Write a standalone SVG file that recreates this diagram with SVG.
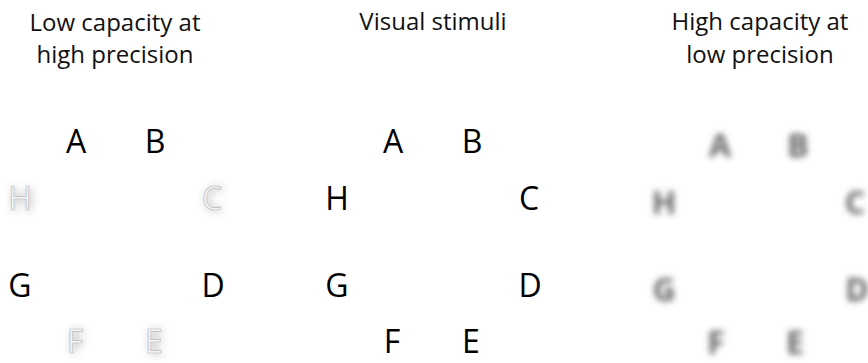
<svg xmlns="http://www.w3.org/2000/svg" width="868" height="363" viewBox="0 0 868 363">
<defs>
<style>
.title{font-family:"Open Sans","Noto Sans",sans-serif;font-size:24px;fill:#111;text-anchor:middle}
.let{font-family:"Open Sans","Noto Sans",sans-serif;font-size:32px;fill:#000;text-anchor:middle}
.faintShadow{fill:#666;opacity:0.6;filter:url(#softBlur)}
.faint{fill:#f4f4f4;stroke:#bdbdbd;stroke-width:0.7}
.blurry{fill:#666;font-weight:700;filter:url(#heavyBlur)}
</style>
<filter id="softBlur" x="-80%" y="-80%" width="260%" height="260%">
<feOffset dx="2" dy="1"/>
<feGaussianBlur stdDeviation="4"/>
</filter>
<filter id="heavyBlur" x="-80%" y="-80%" width="260%" height="260%">
<feGaussianBlur stdDeviation="3.2"/>
</filter>
</defs>
<rect width="868" height="363" fill="#fff"/>
<g id="title-left">
<text class="title" x="115" y="31">Low capacity at</text>
<text class="title" x="115" y="63">high precision</text>
</g>
<g id="title-middle">
<text class="title" x="433" y="30">Visual stimuli</text>
</g>
<g id="title-right">
<text class="title" x="760" y="30">High capacity at</text>
<text class="title" x="760" y="63">low precision</text>
</g>
<g id="panel-left">
<g id="left-A"><text class="let" x="76" y="153">A</text></g>
<g id="left-B"><text class="let" x="155" y="153">B</text></g>
<g id="left-H"><text class="let faintShadow" x="20" y="210">H</text><text class="let faint" x="20" y="210">H</text></g>
<g id="left-C"><text class="let faintShadow" x="212" y="210">C</text><text class="let faint" x="212" y="210">C</text></g>
<g id="left-G"><text class="let" x="20" y="297">G</text></g>
<g id="left-D"><text class="let" x="213" y="297">D</text></g>
<g id="left-F"><text class="let faintShadow" x="75" y="353">F</text><text class="let faint" x="75" y="353">F</text></g>
<g id="left-E"><text class="let faintShadow" x="154" y="353">E</text><text class="let faint" x="154" y="353">E</text></g>
</g>
<g id="panel-middle">
<g id="mid-A"><text class="let" x="393" y="153">A</text></g>
<g id="mid-B"><text class="let" x="472" y="153">B</text></g>
<g id="mid-H"><text class="let" x="337" y="210">H</text></g>
<g id="mid-C"><text class="let" x="529" y="210">C</text></g>
<g id="mid-G"><text class="let" x="337" y="297">G</text></g>
<g id="mid-D"><text class="let" x="530" y="297">D</text></g>
<g id="mid-F"><text class="let" x="392" y="353">F</text></g>
<g id="mid-E"><text class="let" x="471" y="353">E</text></g>
</g>
<g id="panel-right">
<g id="right-A"><text class="let blurry" x="720" y="157">A</text></g>
<g id="right-B"><text class="let blurry" x="798" y="157">B</text></g>
<g id="right-H"><text class="let blurry" x="664" y="214">H</text></g>
<g id="right-C"><text class="let blurry" x="855" y="214">C</text></g>
<g id="right-G"><text class="let blurry" x="664" y="301">G</text></g>
<g id="right-D"><text class="let blurry" x="857" y="301">D</text></g>
<g id="right-F"><text class="let blurry" x="716" y="354">F</text></g>
<g id="right-E"><text class="let blurry" x="795" y="354">E</text></g>
</g>
</svg>
